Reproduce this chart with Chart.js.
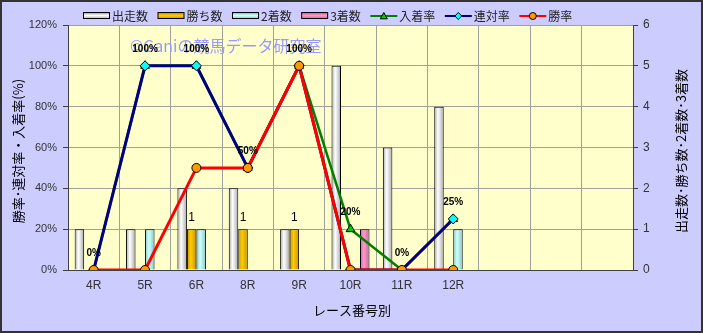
<!DOCTYPE html>
<html>
<head>
<meta charset="utf-8">
<script src="https://cdn.jsdelivr.net/npm/chart.js@4.4.0/dist/chart.umd.min.js"></script>
<style>
body { margin: 0; background: #ccccff; }
canvas { display: block; }
</style>
</head>
<body>
<canvas id="raceChart" width="703" height="333"></canvas>
<script>
// race categories (last three slots are empty on the original)
var races = ['4R', '5R', '6R', '8R', '9R', '10R', '11R', '12R', '', '', ''];

// counts (right axis)
var starts  = [1, 1, 2, 2, 1, 5, 3, 4];
var wins    = [0, 0, 1, 1, 1, 0, 0, 0];
var seconds = [0, 1, 1, 0, 0, 0, 0, 1];
var thirds  = [0, 0, 0, 0, 0, 1, 0, 0];

// rates in % (left axis)
var placeRate  = [0, 100, 100, 50, 100, 20, 0, 25];
var rentaiRate = [0, 100, 100, 50, 100, 0, 0, 25];
var winRate    = [0, 0, 50, 50, 100, 0, 0, 0];

var rateMax = 120, rateStep = 20;
var countMax = 6, countStep = 1;

var JP = '"Noto Sans CJK JP", "Noto Sans", sans-serif';
var LAT = '"Liberation Sans", Arial, sans-serif';
var CAT_PCT = 0.74;

// bar colours: [centre, edge]
var barColors = [
  ['#ffffff', '#a8a8a8'],
  ['#ffcc00', '#c89400'],
  ['#ccffff', '#88c8c8'],
  ['#ff99cc', '#c8669a']
];

function barFill(k) {
  return function(c) {
    var chart = c.chart;
    var xs = chart.scales && chart.scales.x;
    if (!xs || c.type !== 'data') return barColors[k][0];
    var cw = xs.width / races.length;
    var w = cw * CAT_PCT / 4;
    var cx = xs.getPixelForValue(c.dataIndex) + (k - 1.5) * w;
    if (!isFinite(cx) || !isFinite(w) || w <= 0) return barColors[k][0];
    var g = chart.ctx.createLinearGradient(cx - w / 2, 0, cx + w / 2, 0);
    g.addColorStop(0, barColors[k][1]);
    g.addColorStop(0.4, barColors[k][0]);
    g.addColorStop(1, barColors[k][1]);
    return g;
  };
}

function drawMarker(ctx, style, x, y, r, fill) {
  ctx.save();
  ctx.fillStyle = fill;
  ctx.strokeStyle = '#000';
  ctx.lineWidth = 1;
  ctx.beginPath();
  if (style === 'triangle') {
    ctx.moveTo(x, y - r);
    ctx.lineTo(x + r, y + r * 0.8);
    ctx.lineTo(x - r, y + r * 0.8);
    ctx.closePath();
  } else if (style === 'rectRot') {
    ctx.moveTo(x, y - r);
    ctx.lineTo(x + r, y);
    ctx.lineTo(x, y + r);
    ctx.lineTo(x - r, y);
    ctx.closePath();
  } else {
    ctx.arc(x, y, r, 0, Math.PI * 2);
  }
  ctx.fill();
  ctx.stroke();
  ctx.restore();
}

var legendItems = [
  { text: '出走数', bar: 0 },
  { text: '勝ち数', bar: 1 },
  { text: '2着数', bar: 2 },
  { text: '3着数', bar: 3 },
  { text: '入着率', line: '#008000', lw: 2, marker: 'triangle', fill: '#00cc00' },
  { text: '連対率', line: '#000080', lw: 2, marker: 'rectRot', fill: '#00ffff' },
  { text: '勝率', line: '#ff0000', lw: 2, marker: 'circle', fill: '#ff9900' }
];

var decorPlugin = {
  id: 'decor',
  beforeDraw: function(chart) {
    var ctx = chart.ctx, a = chart.chartArea;
    ctx.save();
    ctx.fillStyle = '#ccccff';
    ctx.fillRect(0, 0, chart.width, chart.height);
    ctx.strokeStyle = '#333333';
    ctx.lineWidth = 2;
    ctx.strokeRect(1, 1, chart.width - 2, chart.height - 2);
    ctx.fillStyle = '#ffffcc';
    ctx.fillRect(a.left, a.top, a.right - a.left, a.bottom - a.top);
    ctx.restore();
  },
  beforeDatasetsDraw: function(chart) {
    var ctx = chart.ctx;
    ctx.save();
    ctx.fillStyle = '#9999ff';
    ctx.font = '16px ' + JP;
    ctx.textBaseline = 'middle';
    ctx.fillText('©Ganiの競馬データ研究室', 130, 46);
    ctx.restore();
  },
  afterDraw: function(chart) {
    var ctx = chart.ctx;
    ctx.save();
    // axis titles
    ctx.fillStyle = '#000';
    ctx.font = '13px ' + JP;
    ctx.textAlign = 'center';
    ctx.textBaseline = 'middle';
    ctx.fillText('レース番号別', 352, 310);
    ctx.save();
    ctx.translate(18, 151);
    ctx.rotate(-Math.PI / 2);
    ctx.fillText('勝率･連対率・入着率(%)', 0, 0);
    ctx.restore();
    ctx.save();
    ctx.translate(681, 151);
    ctx.rotate(-Math.PI / 2);
    ctx.fillText('出走数･勝ち数･2着数･3着数', 0, 0);
    ctx.restore();

    // data labels
    var pm = chart.getDatasetMeta(4);
    ctx.font = 'bold 10px ' + LAT;
    pm.data.forEach(function(pt, i) {
      ctx.fillText(placeRate[i] + '%', pt.x, pt.y - 17);
    });
    var wm = chart.getDatasetMeta(1);
    ctx.font = '12px ' + LAT;
    wm.data.forEach(function(b, i) {
      if (wins[i] > 0) ctx.fillText(String(wins[i]), b.x, b.y - 11);
    });

    // legend
    var x = 83, y = 16;
    ctx.font = '12px ' + JP;
    ctx.textAlign = 'left';
    legendItems.forEach(function(it) {
      if (it.bar !== undefined) {
        var g = ctx.createLinearGradient(0, y - 3, 0, y + 3);
        g.addColorStop(0, barColors[it.bar][1]);
        g.addColorStop(0.4, barColors[it.bar][0]);
        g.addColorStop(1, barColors[it.bar][1]);
        ctx.fillStyle = g;
        ctx.fillRect(x + 0.5, y - 3.5, 26, 6);
        ctx.strokeStyle = '#000';
        ctx.lineWidth = 1;
        ctx.strokeRect(x + 0.5, y - 3.5, 26, 6);
      } else {
        ctx.strokeStyle = it.line;
        ctx.lineWidth = it.lw;
        ctx.beginPath();
        ctx.moveTo(x, y);
        ctx.lineTo(x + 27, y);
        ctx.stroke();
        drawMarker(ctx, it.marker, x + 13.5, y, 3.5, it.fill);
      }
      ctx.fillStyle = '#222';
      ctx.fillText(it.text, x + 29, y);
      x += 29 + ctx.measureText(it.text).width + 9.5;
    });
    ctx.restore();
  }
};

function barSet(label, data, k) {
  return {
    type: 'bar', label: label, data: data, yAxisID: 'y2', order: 10,
    backgroundColor: barFill(k), borderColor: '#000', borderWidth: 1,
    categoryPercentage: CAT_PCT, barPercentage: 1
  };
}

function lineSet(label, data, color, width, style, fill, radius, order) {
  return {
    type: 'line', label: label, data: data, yAxisID: 'y', order: order,
    borderColor: color, borderWidth: width, tension: 0,
    pointStyle: style, pointRadius: radius, pointBackgroundColor: fill,
    pointBorderColor: '#000', pointBorderWidth: 1
  };
}

new Chart(document.getElementById('raceChart').getContext('2d'), {
  type: 'bar',
  data: {
    labels: races,
    datasets: [
      barSet('出走数', starts, 0),
      barSet('勝ち数', wins, 1),
      barSet('2着数', seconds, 2),
      barSet('3着数', thirds, 3),
      lineSet('入着率', placeRate, '#008000', 2.5, 'triangle', '#00cc00', 5, 3),
      lineSet('連対率', rentaiRate, '#000080', 3, 'rectRot', '#00ffff', 5, 2),
      lineSet('勝率', winRate, '#ff0000', 3, 'circle', '#ff9900', 4.5, 1)
    ]
  },
  plugins: [decorPlugin],
  options: {
    responsive: false,
    devicePixelRatio: 1,
    animation: false,
    layout: { padding: { top: 25, left: 0, right: 0, bottom: 0 } },
    plugins: { legend: { display: false }, tooltip: { enabled: false } },
    scales: {
      x: {
        offset: true,
        grid: { offset: true, color: '#a0a0a0', borderDash: [2, 2], drawTicks: false },
        border: { color: '#404040', width: 1 },
        ticks: { color: '#333', font: { family: LAT, size: 12 }, padding: 8 },
        afterFit: function(s) { s.height = 63; }
      },
      y: {
        position: 'left', min: 0, max: rateMax,
        ticks: { stepSize: rateStep, color: '#333', font: { family: LAT, size: 11 }, padding: 6,
          callback: function(v) { return v + '%'; } },
        grid: { color: '#a0a0a0', borderDash: [2, 2], tickColor: '#404040', tickBorderDash: [], tickLength: 5 },
        border: { color: '#404040', width: 1 },
        afterFit: function(s) { s.width = 68; }
      },
      y2: {
        position: 'right', min: 0, max: countMax,
        ticks: { stepSize: countStep, color: '#333', font: { family: LAT, size: 12 }, padding: 5 },
        grid: { drawOnChartArea: false, tickColor: '#404040', tickLength: 5 },
        border: { color: '#404040', width: 1 },
        afterFit: function(s) { s.width = 70; }
      }
    }
  }
});
</script>
</body>
</html>
